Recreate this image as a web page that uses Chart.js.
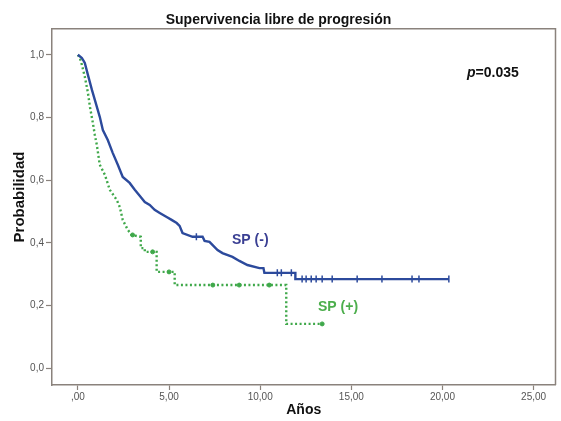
<!DOCTYPE html>
<html>
<head>
<meta charset="utf-8">
<script src="https://cdn.jsdelivr.net/npm/chart.js@4/dist/chart.umd.min.js"></script>
<style>
  html, body { margin: 0; padding: 0; background: #fff; }
  #km { display: block; }
</style>
</head>
<body>
<canvas id="km" width="561" height="421"></canvas>
<script>
// Kaplan-Meier curves (years, survival probability)
const blueTimes = [0, 0.22, 0.38, 0.55, 0.77, 0.93, 1.20, 1.37, 1.64, 1.91, 2.19, 2.46, 2.84, 3.12, 3.39, 3.67, 3.94, 4.21, 4.49, 4.87, 5.14, 5.42, 5.58, 5.74, 6.29, 6.84, 6.95, 7.22, 7.66, 7.93, 8.48, 8.86, 9.30, 9.96, 10.18, 10.23, 11.93, 11.93, 20.35];
const blueSurv = [1.0, 0.990, 0.974, 0.936, 0.888, 0.856, 0.802, 0.760, 0.728, 0.687, 0.649, 0.610, 0.591, 0.569, 0.550, 0.530, 0.521, 0.505, 0.495, 0.482, 0.473, 0.463, 0.454, 0.431, 0.419, 0.419, 0.406, 0.403, 0.377, 0.367, 0.355, 0.342, 0.329, 0.319, 0.319, 0.304, 0.304, 0.284, 0.284];

const greenTimes = [0, 0.11, 0.22, 0.38, 0.55, 0.66, 0.82, 0.93, 1.04, 1.20, 1.48, 1.75, 2.13, 2.30, 2.46, 2.74, 2.95, 3.45, 3.45, 3.67, 3.67, 4.32, 4.32, 5.31, 5.31, 11.43, 11.43, 13.40];
const greenSurv = [1.0, 0.990, 0.968, 0.930, 0.879, 0.834, 0.783, 0.744, 0.712, 0.649, 0.617, 0.569, 0.537, 0.514, 0.473, 0.441, 0.425, 0.419, 0.383, 0.383, 0.371, 0.371, 0.307, 0.307, 0.265, 0.265, 0.141, 0.141];

// censored observations (tick marks)
const blueCensorTimes = [6.5, 10.94, 11.16, 11.71, 12.30, 12.52, 12.80, 13.07, 13.40, 13.95, 15.32, 16.68, 18.33, 18.71, 20.35];
const blueCensorSurv = [0.419, 0.304, 0.304, 0.304, 0.284, 0.284, 0.284, 0.284, 0.284, 0.284, 0.284, 0.284, 0.284, 0.284, 0.284];
const greenCensorTimes = [3.0, 4.1, 5.0, 7.4, 8.85, 10.5, 13.4];
const greenCensorSurv = [0.425, 0.371, 0.307, 0.265, 0.265, 0.265, 0.141];

const xTickValues = [0, 5, 10, 15, 20, 25];
const xTickLabels = [',00', '5,00', '10,00', '15,00', '20,00', '25,00'];
const yTickValues = [0, 0.2, 0.4, 0.6, 0.8, 1.0];
const yTickLabels = ['0,0', '0,2', '0,4', '0,6', '0,8', '1,0'];

const FONT = '"Liberation Sans", Arial, sans-serif';
const frameColor = '#8a827c';
const blueColor = '#2c4a9c';
const greenColor = '#3fa84a';

const toPoints = (xs, ys) => xs.map((x, i) => ({ x: x, y: ys[i] }));

// frame + free text labels
const annotations = {
  id: 'annotations',
  beforeDatasetsDraw(chart) {
    const { ctx, chartArea: a } = chart;
    ctx.save();
    ctx.strokeStyle = frameColor;
    ctx.lineWidth = 1.5;
    ctx.beginPath();
    ctx.moveTo(a.left, a.top);
    ctx.lineTo(a.right, a.top);
    ctx.lineTo(a.right, a.bottom);
    ctx.stroke();
    ctx.restore();
  },
  afterDraw(chart) {
    const { ctx } = chart;
    ctx.save();
    // y axis title
    ctx.translate(20, 197);
    ctx.rotate(-Math.PI / 2);
    ctx.font = 'bold 15px ' + FONT;
    ctx.fillStyle = '#111';
    ctx.textAlign = 'center';
    ctx.textBaseline = 'middle';
    ctx.fillText('Probabilidad', 0, 0);
    ctx.restore();

    ctx.save();
    ctx.textBaseline = 'middle';
    ctx.textAlign = 'left';
    ctx.fillStyle = '#111';
    ctx.font = 'italic bold 14px ' + FONT;
    ctx.fillText('p', 467, 73);
    const pw = ctx.measureText('p').width;
    ctx.font = 'bold 14px ' + FONT;
    ctx.fillText('=0.035', 467 + pw, 73);

    ctx.font = 'bold 14px ' + FONT;
    ctx.fillStyle = '#3a3f93';
    ctx.fillText('SP (-)', 232, 240);
    ctx.fillStyle = '#4cae4c';
    ctx.fillText('SP (+)', 318, 307);
    ctx.restore();
  }
};

new Chart(document.getElementById('km'), {
  type: 'line',
  data: {
    datasets: [
      {
        label: 'SP (-)',
        data: toPoints(blueTimes, blueSurv),
        borderColor: blueColor,
        borderWidth: 2.4,
        pointRadius: 0,
        tension: 0
      },
      {
        label: 'SP (+)',
        data: toPoints(greenTimes, greenSurv),
        borderColor: greenColor,
        borderWidth: 2.4,
        borderDash: [2, 2.5],
        pointRadius: 0,
        tension: 0
      },
      {
        label: 'censored (-)',
        data: toPoints(blueCensorTimes, blueCensorSurv),
        showLine: false,
        pointStyle: 'line',
        rotation: 90,
        pointRadius: 3.5,
        borderColor: blueColor,
        pointBorderWidth: 1.5
      },
      {
        label: 'censored (+)',
        data: toPoints(greenCensorTimes, greenCensorSurv),
        showLine: false,
        pointStyle: 'circle',
        pointRadius: 2,
        backgroundColor: greenColor,
        borderColor: greenColor,
        pointBorderWidth: 1
      }
    ]
  },
  options: {
    responsive: false,
    animation: false,
    layout: { padding: { left: 0, right: 4, top: 0, bottom: 0 } },
    plugins: {
      legend: { display: false },
      tooltip: { enabled: false },
      title: {
        display: true,
        text: 'Supervivencia libre de progresión',
        color: '#111',
        font: { family: FONT, size: 14, weight: 'bold' },
        padding: { top: 12, bottom: 0 }
      }
    },
    scales: {
      x: {
        type: 'linear',
        min: -1.42,
        max: 26.2,
        afterBuildTicks: s => { s.ticks = xTickValues.map(v => ({ value: v })); },
        afterFit: s => { s.height = 36; },
        ticks: {
          color: '#555',
          font: { family: FONT, size: 10 },
          padding: 1,
          maxRotation: 0,
          callback: (v, i) => xTickLabels[i]
        },
        grid: { drawOnChartArea: false, tickLength: 5, color: frameColor, tickWidth: 1.2 },
        border: { display: true, color: frameColor, width: 1.5 },
        title: {
          display: true,
          text: 'Años',
          color: '#111',
          font: { family: FONT, size: 14, weight: 'bold' },
          padding: { top: 0, bottom: 2 }
        }
      },
      y: {
        type: 'linear',
        min: -0.054,
        max: 1.083,
        afterBuildTicks: s => { s.ticks = yTickValues.map(v => ({ value: v })); },
        afterFit: s => { s.width = 52; },
        ticks: {
          color: '#555',
          font: { family: FONT, size: 10 },
          padding: 2,
          callback: (v, i) => yTickLabels[i]
        },
        grid: { drawOnChartArea: false, tickLength: 6, color: frameColor, tickWidth: 1.2 },
        border: { display: true, color: frameColor, width: 1.5 }
      }
    }
  },
  plugins: [annotations]
});
</script>
</body>
</html>
